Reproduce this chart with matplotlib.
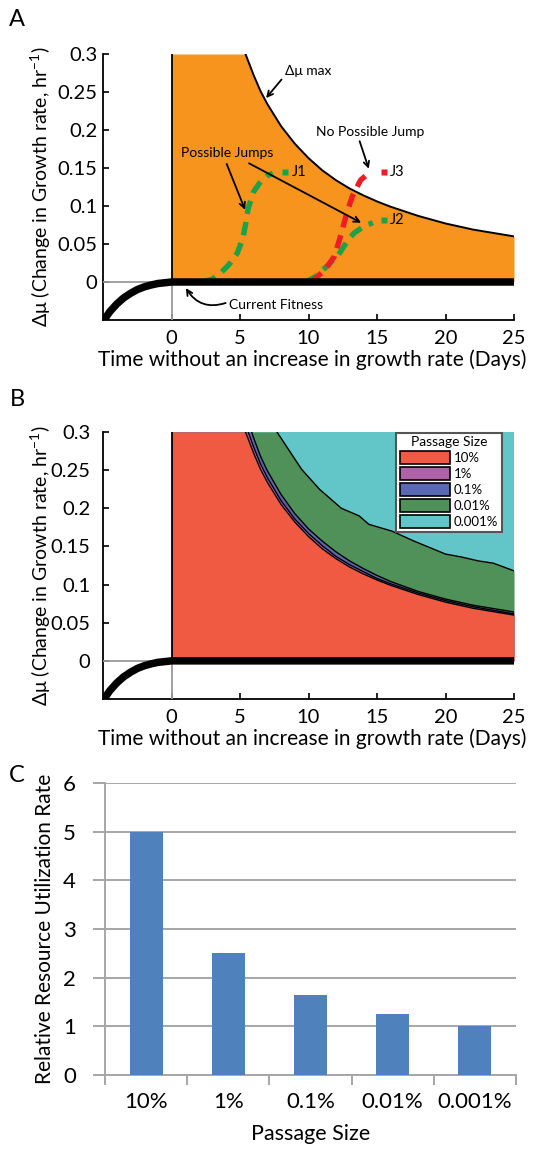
import numpy as np
import matplotlib
matplotlib.use('Agg')
import matplotlib.pyplot as plt
from matplotlib.patches import Patch

plt.rcParams['font.family'] = ['Lato', 'DejaVu Sans']
plt.rcParams['mathtext.default'] = 'regular'

# ---------------- data ----------------
# current fitness curve (thick black)
fit_x = [-5.0, -4.5, -4.0, -3.5, -3.0, -2.5, -2.0, -1.5, -1.0, -0.5, 0.0, 25.0]
fit_y = [-0.052, -0.039, -0.029, -0.021, -0.015, -0.010, -0.0065, -0.004, -0.002, -0.001, 0.0, 0.0]

# panel A: delta-mu max boundary
dmax_x = [5.4, 6.0, 6.5, 7.0, 8.0, 9.0, 10.0, 11.0, 12.0, 13.0, 14.0, 15.0, 16.0, 18.0, 20.0, 22.0, 25.0]
dmax_y = [0.300, 0.272, 0.251, 0.234, 0.205, 0.182, 0.163, 0.147, 0.134, 0.123, 0.114, 0.106, 0.099, 0.087, 0.077, 0.069, 0.060]

# jump trajectories
j1_x = [2.3, 3.0, 3.6, 4.2, 4.8, 5.2, 5.4, 5.6, 6.0, 6.5, 7.0, 7.4]
j1_y = [0.0, 0.004, 0.012, 0.023, 0.038, 0.057, 0.075, 0.097, 0.119, 0.132, 0.140, 0.143]
j2_x = [9.8, 10.6, 11.3, 12.2, 12.8, 13.3, 14.1, 14.7]
j2_y = [0.0, 0.008, 0.020, 0.036, 0.053, 0.064, 0.074, 0.078]
j3_x = [10.2, 11.2, 11.9, 12.4, 12.8, 13.2, 13.8, 14.5]
j3_y = [0.0, 0.016, 0.034, 0.064, 0.091, 0.113, 0.134, 0.145]
jend_x = [8.3, 15.5, 15.5]
jend_y = [0.145, 0.081, 0.145]
jlabels = ['J1', 'J2', 'J3']

# panel B: upper boundaries for each passage size
b10_x = [5.4, 6.0, 6.5, 7.0, 8.0, 9.0, 10.0, 11.0, 12.0, 13.0, 14.0, 15.0, 16.0, 18.0, 20.0, 22.0, 25.0]
b10_y = [0.300, 0.272, 0.251, 0.234, 0.205, 0.182, 0.163, 0.147, 0.134, 0.123, 0.114, 0.106, 0.099, 0.087, 0.077, 0.069, 0.060]
b1_x = [5.6, 6.0, 6.5, 7.0, 8.0, 9.0, 10.0, 11.0, 12.0, 13.0, 14.0, 15.0, 16.0, 18.0, 20.0, 22.0, 25.0]
b1_y = [0.300, 0.280, 0.258, 0.240, 0.210, 0.186, 0.167, 0.151, 0.137, 0.126, 0.117, 0.108, 0.101, 0.089, 0.079, 0.071, 0.0615]
b01_x = [5.85, 6.0, 6.5, 7.0, 8.0, 9.0, 10.0, 11.0, 12.0, 13.0, 14.0, 15.0, 16.0, 18.0, 20.0, 22.0, 25.0]
b01_y = [0.300, 0.292, 0.268, 0.249, 0.218, 0.193, 0.173, 0.157, 0.143, 0.131, 0.121, 0.112, 0.104, 0.091, 0.081, 0.073, 0.064]
b001_x = [7.7, 9.5, 10.8, 12.4, 13.7, 14.4, 16.1, 17.7, 20.0, 21.2, 22.4, 23.5, 25.0]
b001_y = [0.300, 0.251, 0.225, 0.200, 0.190, 0.179, 0.170, 0.157, 0.140, 0.136, 0.131, 0.128, 0.118]

passage_labels = ['10%', '1%', '0.1%', '0.01%', '0.001%']
passage_colors = ['#F15A42', '#B062A8', '#5A69B2', '#4F9158', '#62C6C8']

# panel C
resource_rate = [5.0, 2.5, 1.65, 1.25, 1.0]

# ---------------- figure ----------------
W, H = 541, 1151
fig = plt.figure(figsize=(W / 100, H / 100), dpi=100)

def ax_rect(l, r, t, b):
    return [l / W, 1 - b / H, (r - l) / W, (b - t) / H]

ORANGE = '#F7941E'
GRAY = '#9A9A9A'
TICKFS = 14.5
XLABFS = 15
YLABFS = 14
ANNFS = 10


def style_timeaxis(ax, ypad):
    ax.set_xlim(-5, 25)
    ax.set_ylim(-0.05, 0.3)
    for s in ['top', 'right']:
        ax.spines[s].set_visible(False)
    for s in ['left', 'bottom']:
        ax.spines[s].set_linewidth(1.3)
    ax.set_xticks([0, 5, 10, 15, 20, 25])
    ax.set_yticks([0, 0.05, 0.1, 0.15, 0.2, 0.25, 0.3])
    ax.set_yticklabels(['0', '0.05', '0.1', '0.15', '0.2', '0.25', '0.3'])
    ax.tick_params(direction='in', length=4, width=1.2, labelsize=TICKFS)
    ax.tick_params(axis='y', pad=ypad)
    ax.tick_params(axis='x', pad=7)
    ax.set_ylabel('Δμ (Change in Growth rate, hr$^{-1}$)', fontsize=YLABFS)
    ax.yaxis.set_label_coords(-0.122, 0.5)
    ax.set_xlabel('Time without an increase in growth rate (Days)', fontsize=XLABFS)
    ax.xaxis.set_label_coords(0.51, -0.112)


def draw_fitness(ax):
    ax.plot([-5, 0], [0, 0], color=GRAY, lw=1.3, zorder=3)
    ax.plot([0, 0], [-0.05, 0], color=GRAY, lw=1.3, zorder=3)
    ax.plot([0, 0], [0, 0.3], color='k', lw=1.3, zorder=4)
    ax.plot(fit_x, fit_y, color='k', lw=5.4, solid_capstyle='butt', zorder=6)


# ---------- Panel A ----------
axA = fig.add_axes(ax_rect(103, 514, 54, 320))
axA.fill_between([0] + dmax_x, [0.3] + dmax_y, 0, color=ORANGE, lw=0, zorder=1)
axA.plot(dmax_x, dmax_y, color='k', lw=1.4, zorder=4)
draw_fitness(axA)

GREEN = '#1BA24A'
RED = '#EE1D25'
dash = (0, (2.5, 1.5))
axA.plot(j1_x, j1_y, color=GREEN, lw=3.9, ls=dash, zorder=5)
axA.plot(j2_x, j2_y, color=GREEN, lw=3.9, ls=dash, zorder=5)
axA.plot(j3_x, j3_y, color=RED, lw=3.9, ls=dash, zorder=5)
for xe, ye, c, lab in zip(jend_x, jend_y, [GREEN, GREEN, RED], jlabels):
    axA.plot([xe], [ye], marker='s', ms=5, color=c, mec='none', zorder=5)
    axA.text(xe + 0.45, ye, lab, fontsize=ANNFS + 0.5, ha='left', va='center', zorder=7)

arw = dict(arrowstyle='->', lw=1.3, color='k', shrinkA=1, shrinkB=0)
axA.annotate('Δμ max', xy=(6.9, 0.242), xytext=(8.3, 0.277), fontsize=ANNFS,
             ha='left', va='center', arrowprops=dict(arw, relpos=(0, 0.2)), zorder=7)
axA.text(4.1, 0.170, 'Possible Jumps', fontsize=ANNFS, ha='center', va='center', zorder=7)
axA.annotate('', xy=(5.37, 0.095), xytext=(3.99, 0.157), arrowprops=arw, zorder=7)
axA.annotate('', xy=(13.84, 0.078), xytext=(5.57, 0.157), arrowprops=arw, zorder=7)
axA.text(14.5, 0.197, 'No Possible Jump', fontsize=ANNFS, ha='center', va='center', zorder=7)
axA.annotate('', xy=(14.4, 0.149), xytext=(13.7, 0.187), arrowprops=arw, zorder=7)
axA.text(4.2, -0.030, 'Current Fitness', fontsize=ANNFS, ha='left', va='center', zorder=7)
axA.annotate('', xy=(1.05, -0.008), xytext=(4.05, -0.027),
             arrowprops=dict(arw, connectionstyle='arc3,rad=-0.4'), zorder=7)
style_timeaxis(axA, 4)

# ---------- Panel B ----------
axB = fig.add_axes(ax_rect(103, 514, 432, 699))
axB.fill_between([0, 25], [0.3, 0.3], 0, color=passage_colors[4], lw=0, zorder=1)
layers = [(b001_x, b001_y), (b01_x, b01_y), (b1_x, b1_y), (b10_x, b10_y)]
for (bx, by), col in zip(layers, passage_colors[3::-1]):
    axB.fill_between([0] + bx, [0.3] + by, 0, color=col, lw=0, zorder=1)
for bx, by in layers:
    axB.plot(bx, by, color='k', lw=1.0, zorder=2)
draw_fitness(axB)
handles = [Patch(facecolor=c, edgecolor='k', lw=1.2, label=l)
           for c, l in zip(passage_colors, passage_labels)]
leg = axB.legend(handles=handles, title='Passage Size', loc='upper right',
                 bbox_to_anchor=(0.971, 0.998), borderaxespad=0, fontsize=9.5,
                 title_fontsize=10, frameon=True, fancybox=False, framealpha=1,
                 edgecolor='#555555', handlelength=3.8, handleheight=1.15,
                 labelspacing=0.22, borderpad=0.3, handletextpad=0.3)
leg.get_frame().set_linewidth(1.5)
leg.set_zorder(10)
style_timeaxis(axB, 9)

# ---------- Panel C ----------
CGRAY = '#A6A6A6'
axC = fig.add_axes(ax_rect(105, 516, 783, 1075))
pos = np.arange(len(passage_labels))
axC.bar(pos, resource_rate, width=0.4, color='#4F81BD', zorder=3)
axC.set_xlim(-0.5, len(passage_labels) - 0.5)
axC.set_ylim(0, 6)
axC.set_yticks(range(0, 7))
axC.yaxis.grid(True, color=CGRAY, lw=1.4, zorder=0)
axC.set_axisbelow(True)
for s in ['top', 'right']:
    axC.spines[s].set_visible(False)
for s in ['left', 'bottom']:
    axC.spines[s].set_color(CGRAY)
    axC.spines[s].set_linewidth(1.4)
axC.set_xticks(np.arange(-0.5, len(passage_labels)))
axC.set_xticklabels([])
axC.set_xticks(pos, minor=True)
axC.set_xticklabels(passage_labels, minor=True)
axC.tick_params(axis='x', which='major', direction='out', length=7, width=1.4, color=CGRAY)
axC.tick_params(axis='x', which='minor', length=0, pad=12, labelsize=16)
axC.tick_params(axis='y', direction='out', length=9, width=1.4, color=CGRAY, pad=12, labelsize=16)
axC.set_ylabel('Relative Resource Utilization Rate', fontsize=15)
axC.yaxis.set_label_coords(-0.122, 0.5)
axC.set_xlabel('Passage Size', fontsize=15.5)
axC.xaxis.set_label_coords(0.5, -0.168)

# panel letters
fig.text(17 / W, 1 - 20 / H, 'A', fontsize=17, ha='center', va='center')
fig.text(17 / W, 1 - 400 / H, 'B', fontsize=17, ha='center', va='center')
fig.text(17 / W, 1 - 775 / H, 'C', fontsize=17, ha='center', va='center')

fig.savefig('out.png', dpi=100)
